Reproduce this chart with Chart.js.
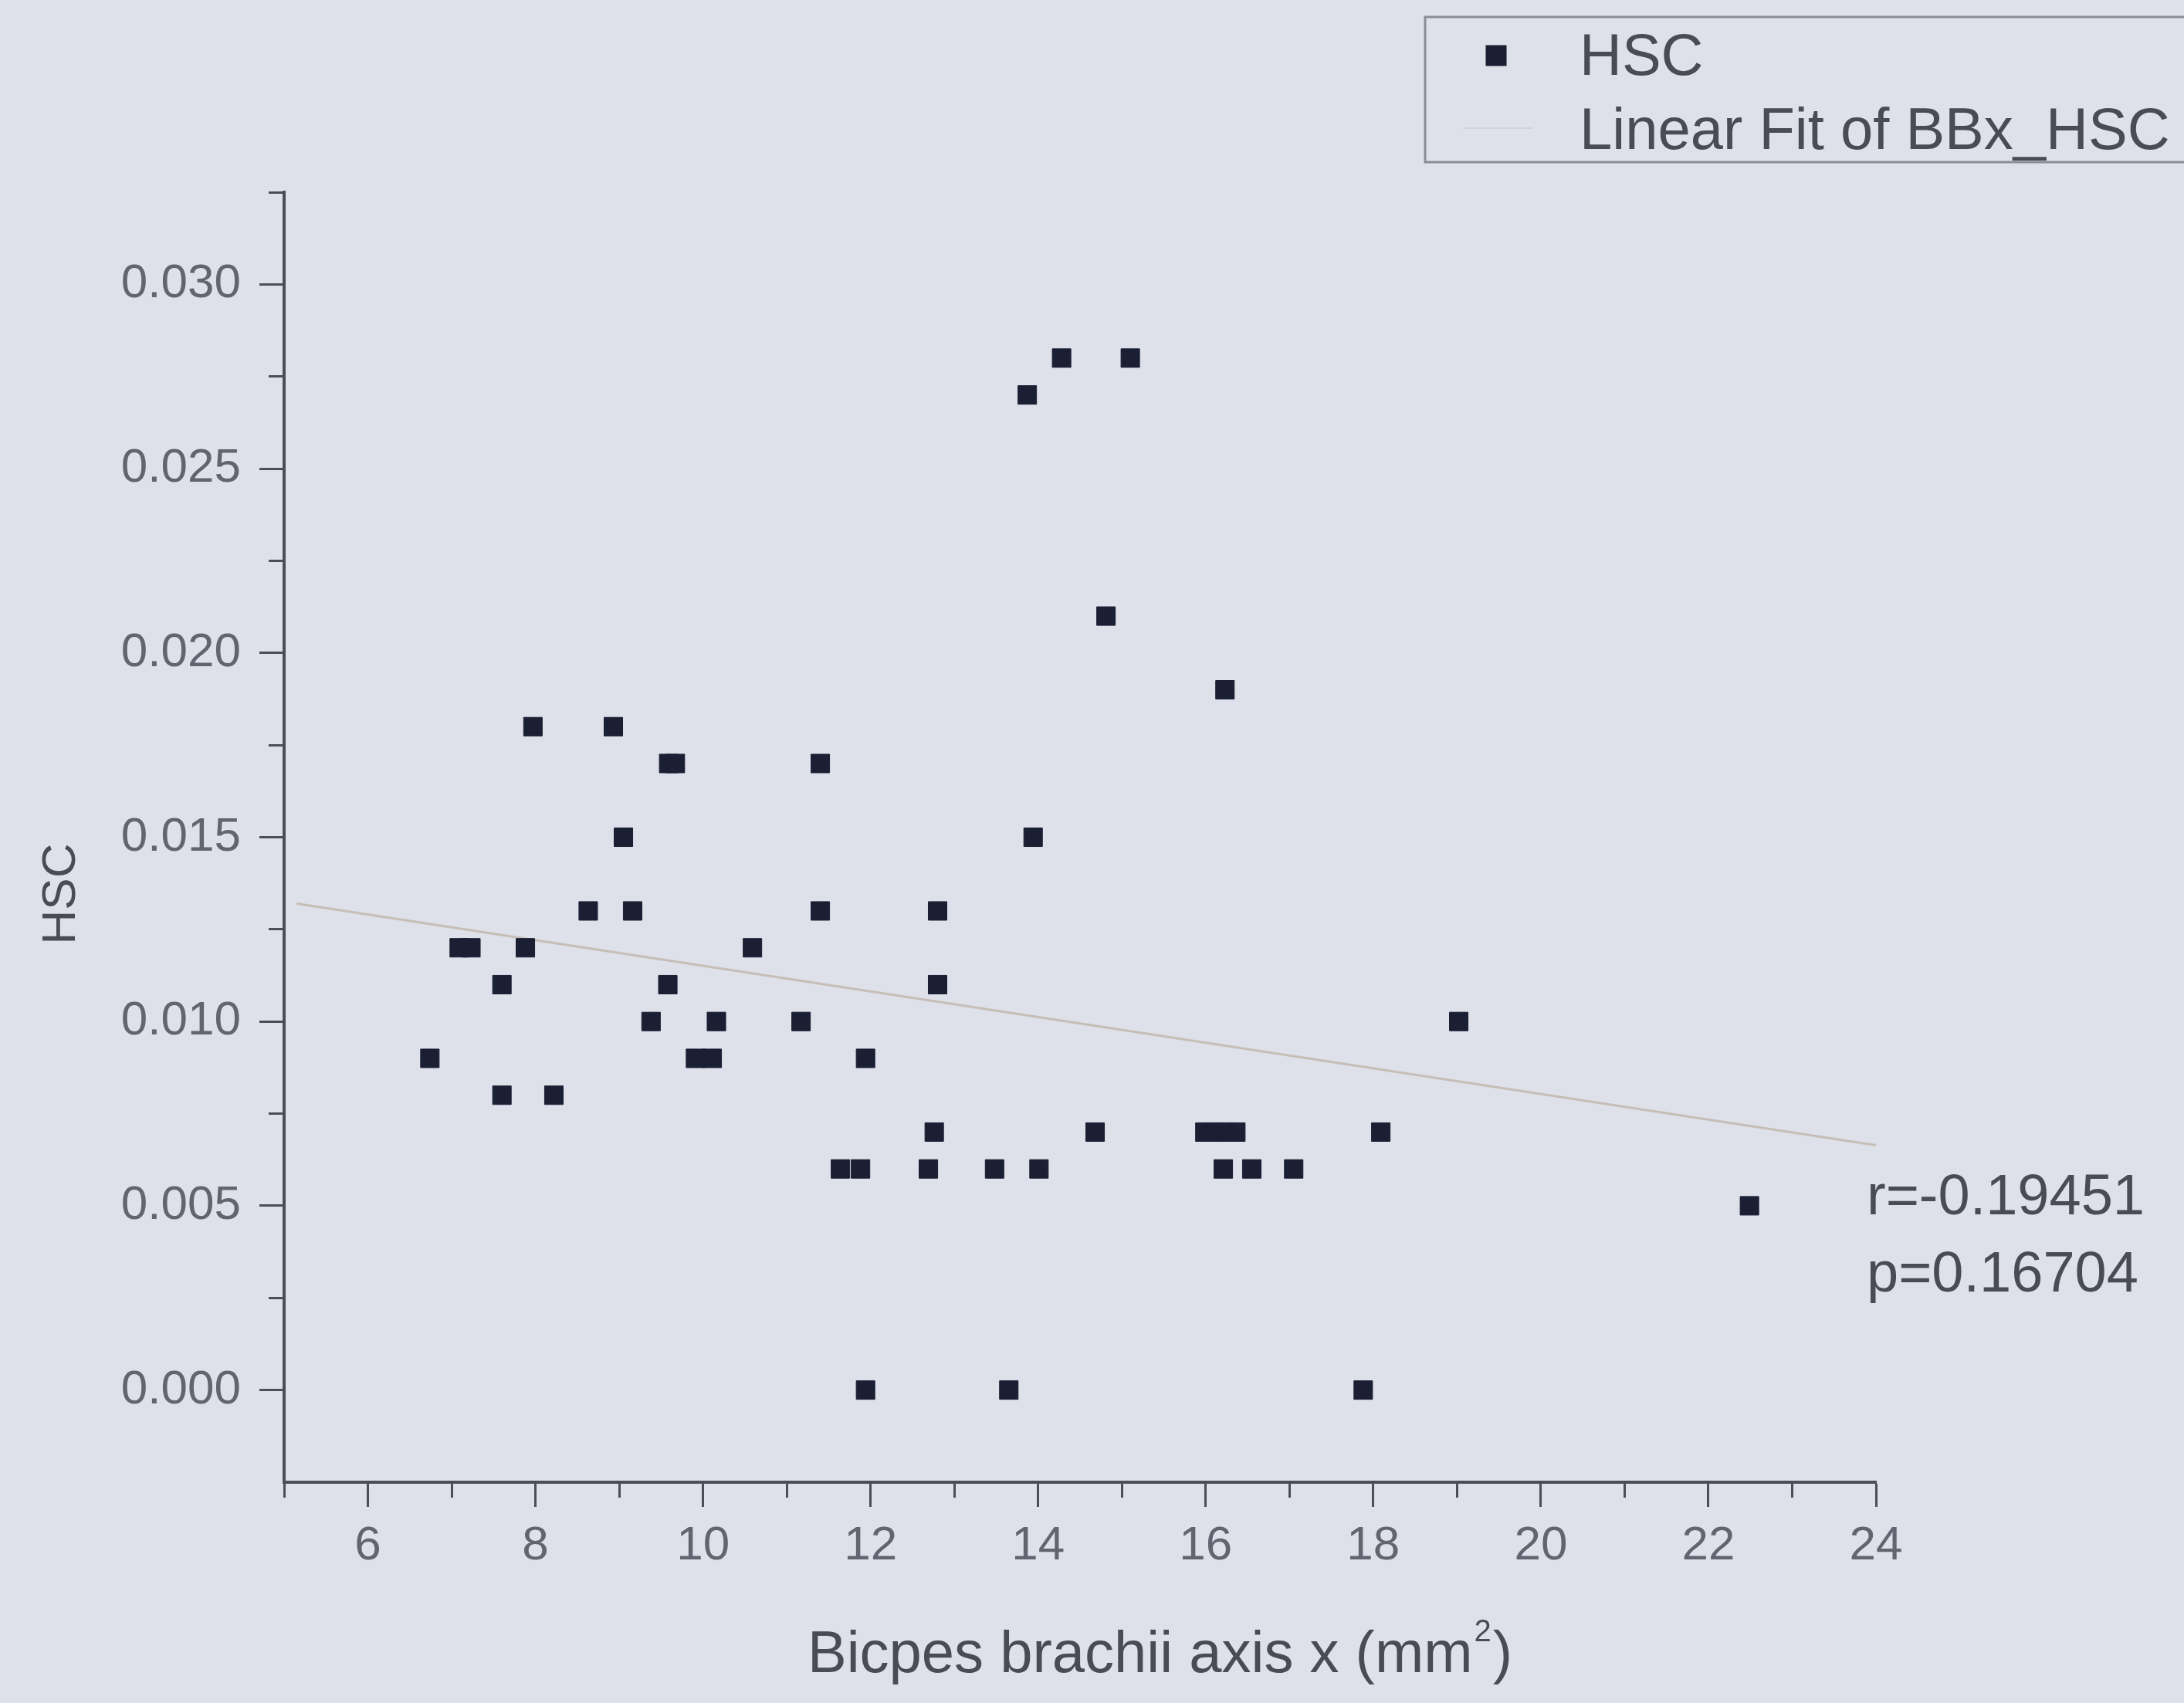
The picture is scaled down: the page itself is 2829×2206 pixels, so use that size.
<!DOCTYPE html>
<html>
<head>
<meta charset="utf-8">
<title>HSC vs Bicpes brachii axis x</title>
<script src="https://cdn.jsdelivr.net/npm/chart.js@4.4.0/dist/chart.umd.min.js"></script>
<style>
  html, body { margin: 0; padding: 0; background: #dee0ea; }
  #wrap { width: 2829px; height: 2206px; }
</style>
</head>
<body>
<div id="wrap"><canvas id="hscChart" width="2829" height="2206"></canvas></div>
<script>
const hscX = [
  14.28, 15.10, 13.87, 14.81, 16.23,
  7.97, 8.93,
  9.59, 9.67, 11.40,
  9.05, 13.94,
  8.63, 9.16, 11.40, 12.80,
  7.09, 7.23, 7.88, 10.59,
  7.60, 9.58, 12.80,
  9.38, 10.16, 11.17, 19.02,
  6.74, 9.91, 10.11, 11.94,
  7.60, 8.22,
  12.76, 14.68, 15.99, 16.11, 16.23, 16.36, 18.09,
  11.64, 11.88, 12.69, 13.48, 14.01, 16.21, 16.55, 17.05,
  22.49,
  11.94, 13.65, 17.88
];
const hscY = [
  0.028, 0.028, 0.027, 0.021, 0.019,
  0.018, 0.018,
  0.017, 0.017, 0.017,
  0.015, 0.015,
  0.013, 0.013, 0.013, 0.013,
  0.012, 0.012, 0.012, 0.012,
  0.011, 0.011, 0.011,
  0.010, 0.010, 0.010, 0.010,
  0.009, 0.009, 0.009, 0.009,
  0.008, 0.008,
  0.007, 0.007, 0.007, 0.007, 0.007, 0.007, 0.007,
  0.006, 0.006, 0.006, 0.006, 0.006, 0.006, 0.006, 0.006,
  0.005,
  0.000, 0.000, 0.000
];

// linear fit end points
const fitX = [5.15, 24];
const fitY = [0.0132, 0.00664];

// axis ticks
const xTickValues = [6, 8, 10, 12, 14, 16, 18, 20, 22, 24];
const xMinorValues = [5, 7, 9, 11, 13, 15, 17, 19, 21, 23];
const yTickValues = [0, 0.005, 0.010, 0.015, 0.020, 0.025, 0.030];
const yMinorValues = [0.0025, 0.0075, 0.0125, 0.0175, 0.0225, 0.0275, 0.0325];

const statsText = ['r=-0.19451', 'p=0.16704'];

const FONT = "'Liberation Sans', Arial, sans-serif";
const axisColor = '#4b4e59';
const tickText = '#62656f';
const darkText = '#4a4c55';
const markerColor = '#1b1f33';
const fitColor = 'rgba(196, 188, 180, 0.95)';

const setTicks = values => scale => { scale.ticks = values.map(v => ({ value: v })); };

const extras = {
  id: 'extras',
  afterDraw(chart) {
    const ctx = chart.ctx;
    ctx.save();

    // legend box
    ctx.strokeStyle = '#8a8c96';
    ctx.lineWidth = 3;
    ctx.strokeRect(1846, 22, 1100, 188);
    ctx.fillStyle = markerColor;
    ctx.strokeStyle = markerColor;
    Chart.helpers.drawPoint(ctx, { pointStyle: 'rect', radius: 17, borderWidth: 1 }, 1938, 72);
    // fit sample is almost invisible in the original
    ctx.strokeStyle = 'rgba(196, 188, 180, 0.35)';
    ctx.lineWidth = 2;
    ctx.beginPath();
    ctx.moveTo(1895, 166);
    ctx.lineTo(1985, 166);
    ctx.stroke();

    ctx.fillStyle = darkText;
    ctx.font = '76px ' + FONT;
    ctx.textAlign = 'left';
    ctx.textBaseline = 'alphabetic';
    ctx.fillText('HSC', 2046, 97);
    ctx.fillText('Linear Fit of BBx_HSC', 2046, 193);

    // r / p
    ctx.font = '74px ' + FONT;
    ctx.fillText(statsText[0], 2418, 1573);
    ctx.fillText(statsText[1], 2418, 1673);

    // x title with superscript
    ctx.font = '76px ' + FONT;
    const base = 'Bicpes brachii axis x (mm';
    let x0 = 1046;
    const yb = 2166;
    ctx.fillText(base, x0, yb);
    x0 += ctx.measureText(base).width;
    ctx.font = '40px ' + FONT;
    ctx.fillText('2', x0 + 2, yb - 40);
    x0 += ctx.measureText('2').width + 4;
    ctx.font = '76px ' + FONT;
    ctx.fillText(')', x0, yb);

    // y title
    ctx.translate(97, 1158);
    ctx.rotate(-Math.PI / 2);
    ctx.font = '62px ' + FONT;
    ctx.textAlign = 'center';
    ctx.fillText('HSC', 0, 0);

    ctx.restore();
  }
};

const ctx = document.getElementById('hscChart').getContext('2d');
const hscChart = new Chart(ctx, {
  type: 'scatter',
  data: {
    datasets: [{
      label: 'HSC',
      data: hscX.map((x, i) => ({ x: x, y: hscY[i] })),
      pointStyle: 'rect',
      pointRadius: 17,
      backgroundColor: markerColor,
      borderColor: markerColor,
      borderWidth: 1,
      order: 1
    }, {
      label: 'Linear Fit of BBx_HSC',
      data: fitX.map((x, i) => ({ x: x, y: fitY[i] })),
      showLine: true,
      pointRadius: 0,
      borderColor: fitColor,
      borderWidth: 3,
      order: 2
    }]
  },
  options: {
    responsive: false,
    animation: false,
    layout: { padding: { top: 249, right: 399, left: 0, bottom: 0 } },
    plugins: {
      legend: { display: false },
      tooltip: { enabled: false }
    },
    scales: {
      x: {
        type: 'linear',
        position: 'bottom',
        min: 5,
        max: 24,
        afterBuildTicks: setTicks(xTickValues),
        afterFit: s => { s.height = 286; },
        border: { display: true, color: axisColor, width: 4 },
        grid: { drawOnChartArea: false, drawTicks: true, tickLength: 32, tickWidth: 3, tickColor: axisColor },
        ticks: { color: tickText, font: { family: FONT, size: 62 }, padding: 14, callback: v => String(v) }
      },
      y: {
        type: 'linear',
        position: 'left',
        min: -0.0025,
        max: 0.0325,
        afterBuildTicks: setTicks(yTickValues),
        afterFit: s => { s.width = 368; },
        border: { display: true, color: axisColor, width: 4 },
        grid: { drawOnChartArea: false, drawTicks: true, tickLength: 32, tickWidth: 3, tickColor: axisColor },
        ticks: { color: tickText, font: { family: FONT, size: 62 }, padding: 24, callback: v => v.toFixed(3) }
      },
      xMinor: {
        type: 'linear',
        axis: 'x',
        position: { y: -0.0025 },
        min: 5,
        max: 24,
        afterBuildTicks: setTicks(xMinorValues),
        border: { display: false },
        grid: { drawOnChartArea: false, drawTicks: true, tickLength: 20, tickWidth: 3, tickColor: axisColor },
        ticks: { display: false }
      },
      yMinor: {
        type: 'linear',
        axis: 'y',
        position: { x: 5 },
        min: -0.0025,
        max: 0.0325,
        afterBuildTicks: setTicks(yMinorValues),
        border: { display: false },
        grid: { drawOnChartArea: false, drawTicks: true, tickLength: 20, tickWidth: 3, tickColor: axisColor },
        ticks: { display: false }
      }
    }
  },
  plugins: [extras]
});
</script>
</body>
</html>
